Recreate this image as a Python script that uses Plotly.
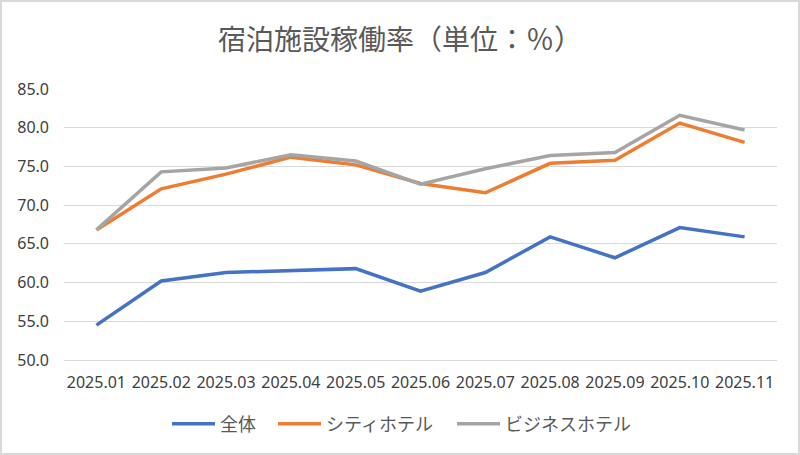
import plotly.graph_objects as go

months = ["2025.01", "2025.02", "2025.03", "2025.04", "2025.05", "2025.06",
          "2025.07", "2025.08", "2025.09", "2025.10", "2025.11"]
overall = [54.5, 60.2, 61.3, 61.6, 61.8, 58.9, 61.3, 65.9, 63.2, 67.1, 65.9]
city_hotel = [66.8, 72.1, 74.0, 76.2, 75.2, 72.8, 71.6, 75.4, 75.8, 80.6, 78.1]
business_hotel = [66.8, 74.3, 74.8, 76.5, 75.7, 72.7, 74.7, 76.4, 76.8, 81.6, 79.7]

series_names = ["全体", "シティホテル", "ビジネスホテル"]
series_values = [overall, city_hotel, business_hotel]
series_colors = ["#4472C4", "#ED7D31", "#A5A5A5"]

title_text = "宿泊施設稼働率（単位：％）"

W, H = 800, 455
ML, MR, MT, MB = 64, 23, 89, 95
PW, PH = W - ML - MR, H - MT - MB

# left pixel position of each legend entry
legend_left_px = [174, 280, 459]
legend_ids = ["legend", "legend2", "legend3"]

fig = go.Figure()
for name, vals, col, lid in zip(series_names, series_values, series_colors, legend_ids):
    fig.add_trace(go.Scatter(
        x=months, y=vals, name=name, mode="lines",
        line=dict(color=col, width=3.5),
        hoverinfo="skip", legend=lid,
    ))

# outer chart border
fig.add_shape(
    type="rect", xref="paper", yref="paper",
    x0=(1 - ML) / PW, x1=(W - 1 - ML) / PW,
    y0=(H - MB - (H - 1)) / PH, y1=(H - MB - 1) / PH,
    line=dict(color="#D9D9D9", width=2), fillcolor="rgba(0,0,0,0)",
    layer="below",
)

legend_common = dict(
    orientation="h", xanchor="left", xref="paper",
    y=(H - MB - 424) / PH, yanchor="middle", yref="paper",
    font=dict(family="Noto Sans CJK JP", size=18, color="#595959"),
    bgcolor="rgba(0,0,0,0)", borderwidth=0, itemwidth=43,
)

legends = {}
for lid, px in zip(legend_ids, legend_left_px):
    legends[lid] = dict(legend_common, x=(px - 7 - ML) / PW)

fig.update_layout(
    width=W, height=H,
    margin=dict(l=ML, r=MR, t=MT, b=MB, autoexpand=False),
    paper_bgcolor="white", plot_bgcolor="white",
    title=dict(
        text=title_text, x=0.5, xref="container", xanchor="center",
        y=1 - 40 / H, yref="container", yanchor="middle",
        font=dict(family="Noto Sans CJK JP", size=28, color="#595959"),
    ),
    font=dict(family="Noto Sans, Noto Sans CJK JP", size=16, color="#404040"),
    showlegend=True,
    **legends,
    xaxis=dict(
        type="category", range=[-0.5, 10.5],
        showgrid=False, zeroline=False,
        showline=True, linecolor="#D9D9D9", linewidth=1.3,
        ticks="", ticklabelstandoff=8, tickangle=0,
        tickfont=dict(family="Noto Sans", size=16, color="#404040"),
        fixedrange=True,
    ),
    yaxis=dict(
        range=[50, 85], dtick=5, tick0=50, tickformat=".1f",
        showgrid=True, gridcolor="#D9D9D9", gridwidth=1.3,
        zeroline=False, showline=False,
        ticks="", ticklabelstandoff=14,
        tickfont=dict(family="Noto Sans", size=16, color="#404040"),
        fixedrange=True,
    ),
)

fig.write_html(
    "out.html",
    config={"displayModeBar": False},
    post_script="document.body.style.margin='0';",
)
